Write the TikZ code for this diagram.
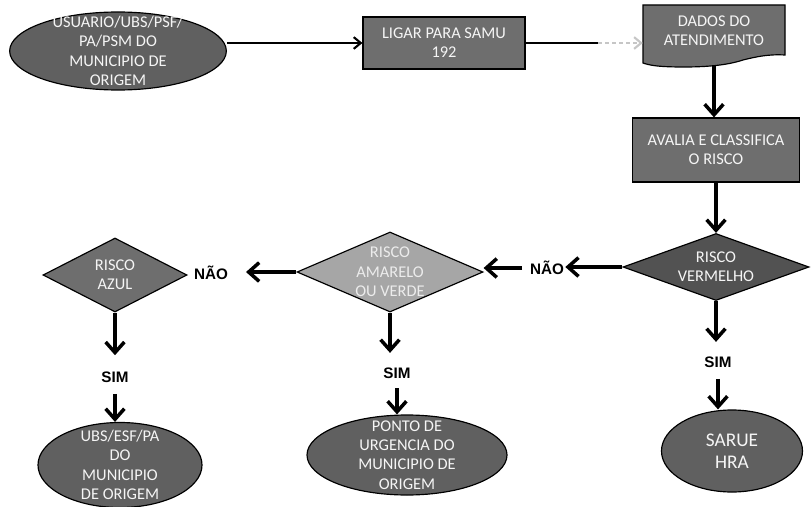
\documentclass[tikz,border=0pt]{standalone}
\usepackage{fontspec}
\setmainfont{Carlito}
\newfontfamily\fonterotulo{Liberation Sans}
\usetikzlibrary{shapes.geometric,arrows.meta,backgrounds}
\definecolor{cinzaelipse}{HTML}{606060}
\definecolor{cinzacaixa}{HTML}{6E6E6E}
\definecolor{cinzaescuro}{HTML}{525252}
\definecolor{cinzaclaro}{HTML}{A6A6A6}
\tikzset{
  forma/.style={draw=black, line width=1pt, inner sep=0pt},
  elipse/.style={forma, ellipse, fill=cinzaelipse},
  caixa/.style={forma, rectangle, fill=cinzacaixa, text=white!92!gray, align=center,
    font=\fontsize{14}{16.5}\selectfont},
  losango/.style={forma, diamond, fill=cinzacaixa},
  texto/.style={text=white!92!gray, align=center, inner sep=0pt,
    font=\fontsize{14}{16.5}\selectfont},
  rotulo/.style={inner sep=1pt, font={\fontsize{13}{15}\fonterotulo\bfseries}},
  seta/.style={line width=3pt, -{Straight Barb[length=9pt,width=16pt]}},
  setafina/.style={line width=1.8pt, -{Straight Barb[length=6pt,width=10pt]}}
}
\begin{document}
\begin{tikzpicture}[x=0.03cm, y=-0.03cm]
\useasboundingbox (0,0) rectangle (811,507);
% Linha superior
\node[elipse, minimum width=6.5cm, minimum height=2.34cm,
  label={[texto]center:{USUARIO/UBS/PSF/\\PA/PSM DO\\MUNICIPIO DE\\ORIGEM}}] (orig) at (118,51) {};
\node[caixa, minimum width=4.86cm, minimum height=1.56cm] (ligar) at (444,43) {LIGAR PARA SAMU\\192};
\node[inner sep=0pt, minimum width=4.26cm, minimum height=1.8cm,
  label={[texto, yshift=0.12cm]center:{DADOS DO\\ATENDIMENTO}}] (dados) at (714,35) {};
\begin{pgfonlayer}{background}
\filldraw[forma, fill=cinzacaixa] (643,5) -- (785,5) -- (785,55)
  .. controls (768,54) and (755,57) .. (743,60)
  .. controls (728,65) and (708,67) .. (684,67)
  .. controls (656,67) and (649,65) .. (643,63) -- cycle;
\end{pgfonlayer}
\coordinate (fade) at (598,43);
\draw[setafina] (orig.east |- ligar.west) -- (ligar.west);
\draw[line width=1.8pt] (ligar.east) -- (fade);
\draw[setafina, gray!45, dashed] (fade) -- (fade -| dados.west);
% Avaliacao
\node[caixa, minimum width=5.01cm, minimum height=1.92cm] (avalia) at (716,150) {AVALIA E CLASSIFICA\\O RISCO};
\draw[seta] (dados.south) -- (dados.south |- avalia.north);
% Losangos
\node[losango, fill=cinzaescuro, minimum width=5.58cm, minimum height=2.01cm,
  label={[texto]center:{RISCO\\VERMELHO}}] (vermelho) at (716,267) {};
\node[losango, fill=cinzaclaro, minimum width=5.58cm, minimum height=2.4cm,
  label={[texto, text=white!85!gray]center:{RISCO\\AMARELO\\OU VERDE}}] (amarelo) at (390,272) {};
\node[losango, minimum width=4.32cm, minimum height=2.22cm,
  label={[texto]center:{RISCO\\AZUL}}] (azul) at (115,275) {};
\draw[seta] (avalia.south) -- (avalia.south |- vermelho.north);
\node[rotulo] (nao1) at (547,268) {NÃO};
\node[rotulo] (nao2) at (211,273) {NÃO};
\draw[seta] (vermelho.west) -- (vermelho.west -| nao1.east);
\draw[seta, shorten <=0.2cm] (nao1.west) -- (nao1.west -| amarelo.east);
\draw[seta, shorten >=0.5cm] (amarelo.west) -- (amarelo.west -| nao2.east);
% Destinos
\node[rotulo] (sim1) at (115,377) {SIM};
\node[rotulo] (sim2) at (397,373) {SIM};
\node[rotulo] (sim3) at (718,362) {SIM};
\node[elipse, minimum width=4.92cm, minimum height=2.55cm,
  label={[texto]center:{UBS/ESF/PA\\DO\\MUNICIPIO\\DE ORIGEM}}] (ubs) at (120,465) {};
\node[elipse, minimum width=6cm, minimum height=2.4cm,
  label={[texto]center:{PONTO DE\\URGENCIA DO\\MUNICIPIO DE\\ORIGEM}}] (ponto) at (407,455) {};
\node[elipse, minimum width=4.23cm, minimum height=2.46cm,
  label={[texto, font=\fontsize{16.5}{19}\selectfont]center:{SARUE\\HRA}}] (sarue) at (732,451) {};
\draw[seta, shorten >=0.45cm] (azul.south) -- (azul.south |- sim1.north);
\draw[seta, shorten <=0.3cm] (sim1.south) -- (sim1.south |- ubs.north);
\draw[seta, shorten >=0.4cm] (amarelo.south) -- (amarelo.south |- sim2.north);
\draw[seta, shorten <=0.25cm] (sim2.south) -- (sim2.south |- ponto.north);
\draw[seta, shorten >=0.4cm] (vermelho.south) -- (vermelho.south |- sim3.north);
\draw[seta, shorten <=0.3cm] (sim3.south) -- (sim3.south |- sarue.north);
\end{tikzpicture}
\end{document}
